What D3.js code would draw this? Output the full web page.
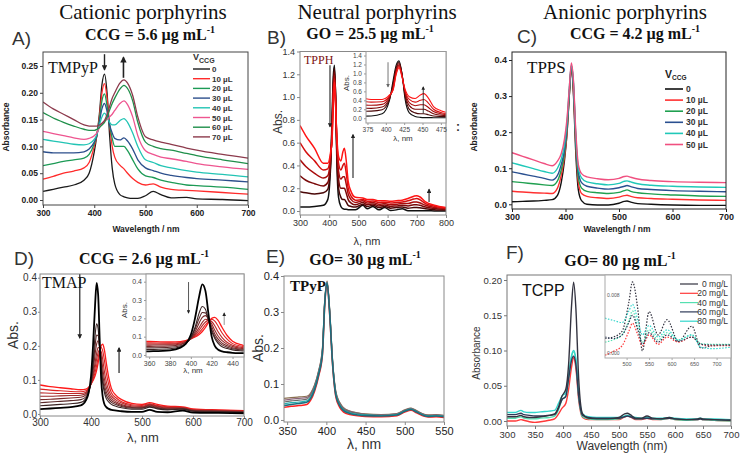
<!DOCTYPE html>
<html><head><meta charset="utf-8">
<script src="https://cdn.jsdelivr.net/npm/d3@7"></script>
<style>body{margin:0;background:#fff}svg{display:block}</style>
</head><body><script>
// ---------------- DATA ----------------
// Panel A (TMPyP, CCG)
const aWl = [300,320,340,360,380,390,400,405,410,415,420,425,430,435,440,450,458,465,475,485,500,515,530,550,580,600,650,700];
const aLabels = ["0","10 µL","20 µL","30 µL","40 µL","50 µL","60 µL","70 µL"];
const aColors = ["#1a1a1a","#ff2b2b","#1c9a55","#2c4f8c","#22c4b4","#ee5590","#1f8f4a","#8c3a4c"];
const aAbs = [
 [.016,.02,.024,.028,.037,.05,.09,.12,.16,.215,.235,.2,.12,.06,.03,.01,.006,.004,.003,.003,.008,.016,.01,.004,.005,.002,.001,-.001],
 [.039,.044,.05,.054,.06,.07,.1,.12,.155,.2,.217,.19,.14,.1,.08,.065,.058,.05,.04,.033,.028,.03,.024,.02,.018,.017,.014,.011],
 [.064,.068,.072,.075,.078,.085,.105,.12,.15,.185,.198,.175,.14,.115,.1,.1,.1,.092,.075,.058,.045,.042,.037,.033,.028,.027,.024,.02],
 [.09,.088,.088,.088,.09,.095,.108,.12,.145,.17,.18,.165,.14,.125,.115,.112,.116,.11,.095,.075,.06,.055,.05,.046,.042,.04,.037,.034],
 [.113,.11,.107,.104,.103,.105,.113,.122,.14,.155,.162,.155,.145,.14,.14,.148,.152,.145,.125,.1,.075,.07,.064,.06,.055,.052,.048,.043],
 [.128,.124,.12,.116,.113,.115,.12,.125,.135,.143,.148,.15,.155,.16,.167,.18,.185,.178,.155,.12,.092,.085,.08,.077,.072,.068,.062,.057],
 [.163,.153,.145,.138,.132,.13,.13,.132,.135,.14,.145,.155,.168,.18,.19,.207,.214,.208,.185,.145,.108,.1,.096,.093,.087,.083,.075,.068],
 [.183,.17,.16,.15,.14,.138,.138,.138,.14,.143,.148,.16,.175,.19,.2,.218,.224,.218,.195,.155,.118,.112,.108,.104,.097,.093,.085,.078]
];
const aYTicks = [0,0.05,0.10,0.15,0.20,0.25];
const aXTicks = [300,400,500,600,700];

// Panel B (TPPH, GO)
const bWl = [300,320,350,380,395,405,410,414,418,422,426,432,440,447,452,458,465,475,490,515,530,550,570,590,610,630,650,670,690,700,710,730,760,800];
const bColors = ["#111111","#4a0808","#7a0a0a","#a80c0c","#d41010","#ff1414"];
const bAbs = [
 [.035,.035,.04,.05,.1,.4,.85,1.18,1.28,1.0,.45,.12,.04,.02,.015,.015,.012,.01,.01,.05,.02,.04,.01,.03,.005,.01,.02,.003,.002,.002,.002,.002,.001,0],
 [.17,.16,.15,.16,.19,.42,.78,1.12,1.25,1.0,.52,.2,.12,.1,.1,.08,.05,.04,.035,.06,.04,.05,.03,.04,.025,.03,.035,.025,.03,.03,.028,.02,.012,.008],
 [.31,.27,.24,.22,.25,.45,.72,1.08,1.22,.98,.56,.28,.2,.2,.2,.16,.1,.07,.055,.075,.055,.062,.045,.052,.04,.045,.05,.045,.055,.055,.05,.035,.022,.014],
 [.45,.39,.33,.29,.31,.48,.68,1.04,1.19,.96,.6,.35,.28,.3,.3,.24,.15,.1,.075,.09,.07,.075,.06,.065,.055,.06,.065,.065,.08,.08,.072,.05,.032,.02],
 [.6,.52,.44,.36,.37,.5,.65,1.0,1.16,.94,.63,.42,.36,.4,.42,.34,.2,.13,.095,.1,.085,.088,.075,.078,.07,.075,.08,.09,.105,.11,.1,.065,.042,.026],
 [.75,.66,.55,.42,.42,.52,.63,.97,1.13,.92,.66,.48,.44,.52,.55,.45,.26,.17,.12,.115,.1,.1,.09,.09,.085,.09,.095,.11,.13,.135,.125,.08,.05,.03]
];
const bYTicks = [0,0.2,0.4,0.6,0.8,1.0,1.2,1.4];
const bXTicks = [300,400,500,600,700,800];
const bInsetXTicks = [375,400,425,450,475];

// Panel C (TPPS, CCG)
const cWl = [300,320,340,360,375,385,392,398,403,407,411,415,419,424,430,440,460,480,500,510,515,522,535,560,600,650,700];
const cLabels = ["0","10 µL","20 µL","30 µL","40 µL","50 µL"];
const cColors = ["#111111","#ff3030","#20a050","#2a5090","#20c8b8","#f05080"];
const cAbs = [
 [.007,.008,.009,.011,.013,.025,.06,.12,.2,.3,.375,.3,.15,.04,.01,0,-.002,-.002,.003,.008,.009,.006,.002,0,-.002,-.003,-.003],
 [.036,.034,.032,.031,.03,.045,.08,.13,.2,.3,.38,.31,.17,.06,.03,.022,.018,.016,.02,.024,.025,.022,.018,.016,.014,.012,.011],
 [.063,.06,.057,.054,.052,.065,.095,.14,.21,.3,.38,.32,.18,.075,.045,.036,.032,.03,.033,.038,.04,.036,.032,.029,.026,.023,.022],
 [.09,.084,.078,.072,.067,.08,.11,.15,.22,.31,.385,.33,.19,.09,.06,.05,.045,.042,.046,.05,.052,.049,.044,.041,.038,.036,.035],
 [.115,.107,.099,.091,.086,.1,.125,.165,.23,.32,.385,.335,.2,.1,.073,.062,.057,.054,.058,.064,.065,.062,.057,.053,.05,.048,.047],
 [.143,.133,.123,.113,.107,.12,.14,.18,.24,.32,.392,.34,.21,.11,.085,.076,.071,.068,.072,.077,.078,.075,.07,.066,.063,.061,.06]
];
const cYTicks = [0,0.1,0.2,0.3,0.4];
const cXTicks = [300,400,500,600,700];

// Panel D (TMAP, CCG)
const dWl = [300,320,340,360,380,390,395,400,404,408,411,414,417,420,423,426,430,435,440,450,460,480,500,515,530,550,580,600,650,700];
const dColors = ["#000000","#3a2424","#5a2a2a","#7a2a2a","#9a2a2a","#bb2828","#dd2222","#ff1a1a"];
const dAbs = [
 [.014,.016,.018,.02,.025,.04,.06,.11,.2,.32,.385,.35,.22,.1,.05,.03,.02,.015,.012,.01,.008,.006,.006,.012,.006,.005,.01,.004,.003,.002],
 [.024,.026,.028,.03,.034,.045,.06,.095,.15,.23,.265,.25,.19,.13,.09,.065,.045,.035,.028,.022,.018,.014,.014,.02,.015,.012,.014,.008,.006,.004],
 [.033,.035,.037,.039,.042,.05,.065,.092,.14,.2,.232,.23,.19,.14,.1,.075,.055,.042,.034,.027,.022,.017,.017,.022,.017,.014,.015,.009,.007,.005],
 [.042,.043,.045,.047,.049,.056,.068,.09,.125,.175,.205,.215,.195,.155,.115,.088,.065,.05,.04,.031,.025,.019,.018,.024,.019,.015,.016,.01,.008,.006],
 [.052,.052,.053,.054,.055,.06,.07,.088,.115,.15,.178,.195,.192,.17,.135,.105,.078,.058,.046,.035,.028,.021,.02,.026,.021,.017,.017,.011,.009,.007],
 [.062,.061,.06,.06,.06,.064,.073,.088,.108,.135,.16,.18,.19,.183,.16,.128,.095,.068,.053,.04,.032,.024,.022,.028,.023,.019,.018,.012,.01,.008],
 [.073,.07,.068,.066,.065,.068,.075,.088,.102,.122,.142,.165,.185,.195,.185,.16,.12,.085,.062,.046,.036,.027,.025,.03,.025,.021,.019,.013,.011,.009],
 [.085,.08,.077,.074,.071,.073,.078,.088,.098,.112,.128,.15,.178,.2,.205,.19,.15,.105,.075,.053,.042,.031,.028,.033,.028,.023,.021,.015,.012,.01]
];
const dYTicks = [0,0.1,0.2,0.3,0.4];
const dXTicks = [300,400,500,600,700];
const dInsetXTicks = [360,380,400,420,440];

// Panel E (TPyP, GO)
const eWl = [346,355,365,375,380,385,390,395,398,401,404,408,412,417,422,430,440,450,470,490,500,508,515,525,530,540,550];
const eColors = ["#8a7050","#8a6478","#6a6a6a","#2ab0b0","#ff2020","#1a7080"];
const eAbs = [
 [.06,.062,.064,.066,.075,.098,.136,.2,.335,.386,.315,.165,.08,.049,.034,.025,.02,.017,.015,.018,.028,.033,.026,.016,.014,.015,.013],
 [.055,.058,.06,.062,.072,.095,.134,.197,.332,.384,.312,.162,.078,.047,.032,.024,.019,.016,.014,.017,.027,.032,.025,.015,.013,.014,.012],
 [.05,.053,.055,.058,.068,.092,.131,.193,.33,.382,.31,.16,.076,.045,.03,.022,.018,.015,.013,.016,.026,.031,.024,.014,.012,.013,.011],
 [.045,.048,.05,.053,.064,.089,.128,.19,.327,.381,.307,.157,.073,.042,.028,.02,.016,.014,.012,.015,.025,.03,.023,.013,.011,.012,.01],
 [.035,.038,.04,.043,.055,.08,.12,.18,.32,.378,.3,.15,.065,.035,.022,.015,.012,.01,.009,.012,.022,.027,.02,.01,.008,.009,.007],
 [.04,.043,.046,.049,.06,.085,.125,.185,.325,.38,.305,.155,.07,.04,.026,.018,.014,.012,.011,.014,.024,.029,.022,.012,.01,.011,.009]
];
const eYTicks = [0,0.1,0.2,0.3,0.4];
const eXTicks = [350,400,450,500,550];

// Panel F (TCPP, GO)
const fWl = [300,315,325,330,340,350,360,375,385,392,398,405,410,415,419,423,428,435,445,460,480,500,510,515,520,530,540,550,560,575,590,600,620,640,645,650,670,700];
const fLabels = ["0 mg/L","20 mg/L","40 mg/L","60 mg/L","80 mg/L"];
const fColors = ["#333340","#ff3a3a","#55e0b0","#2e3a58","#33d6cc"];
const fAbs = [
 [.006,.006,.008,.006,.005,.005,.006,.008,.01,.02,.035,.045,.08,.16,.197,.16,.06,.01,.004,.003,.003,.005,.01,.011,.009,.004,.004,.007,.004,.003,.005,.003,.002,.003,.004,.003,.002,.001],
 [0,0,.002,.001,-.001,-.002,-.001,.001,.003,.01,.018,.025,.045,.075,.09,.075,.03,.005,.002,.002,.002,.002,.006,.007,.006,.002,.002,.004,.002,.002,.004,.002,.001,.002,.003,.002,.001,0],
 [.004,.004,.006,.004,.003,.003,.004,.005,.007,.016,.03,.035,.06,.09,.098,.085,.035,.006,.003,.002,.002,.003,.007,.008,.007,.003,.003,.005,.003,.002,.004,.002,.001,.002,.003,.002,.001,0],
 [.009,.009,.011,.009,.008,.007,.007,.008,.009,.018,.03,.035,.06,.085,.092,.08,.035,.008,.005,.004,.004,.004,.006,.007,.006,.003,.003,.004,.003,.003,.004,.003,.002,.002,.003,.002,.002,.001],
 [.012,.012,.015,.013,.012,.012,.013,.014,.015,.025,.035,.04,.065,.092,.1,.088,.04,.01,.006,.005,.005,.005,.007,.008,.007,.005,.004,.005,.004,.004,.005,.004,.003,.003,.004,.003,.003,.002]
];
const fYTicks = [0,0.05,0.10,0.15,0.20];
const fXTicks = [300,350,400,450,500,550,600,650,700];
// F inset (Q-band region, dotted)
const fInWl = [452,470,490,505,513,525,535,550,570,590,615,645,665,690,732];
const fInAbs = [
 [.002,.0022,.003,.007,.0098,.006,.0003,.0057,.0025,.0046,.0016,.0037,.0007,.001,.0011],
 [-.0003,.0002,.001,.003,.0041,.0025,.001,.0025,.0012,.0022,.0015,.0022,.0012,.001,.001],
 [.0015,.0018,.0025,.0045,.0058,.0035,.0015,.0032,.0018,.0028,.0018,.0025,.0013,.0012,.0012],
 [.0022,.002,.0025,.0042,.0052,.0032,.0012,.0028,.0015,.0025,.0016,.0022,.0012,.0011,.0011],
 [.0048,.0045,.0042,.0058,.0067,.0045,.0025,.0038,.0022,.0032,.0018,.0025,.0008,.0006,.0008]
];
const fInXTicks = [500,550,600,650,700];
const fInYTicks = [0,0.008];

// ---------------- DRAWING ----------------
const svg = d3.select('body').append('svg').attr('width',740).attr('height',457).style('background','#fff');
const defs = svg.append('defs');
function marker(id,color){
  defs.append('marker').attr('id',id).attr('viewBox','0 0 10 10').attr('refX',8).attr('refY',5)
    .attr('markerWidth',4).attr('markerHeight',4).attr('orient','auto')
    .append('path').attr('d','M0,0L10,5L0,10z').attr('fill',color);
}
marker('ahK','#222'); marker('ahG','#666');
let clipN = 0;
function plot(o){
  const x = d3.scaleLinear().domain(o.xd).range([o.l,o.r]);
  const y = d3.scaleLinear().domain(o.yd).range([o.b,o.t]);
  const g = svg.append('g');
  if(o.bg) g.append('rect').attr('x',o.l).attr('y',o.t).attr('width',o.r-o.l).attr('height',o.b-o.t).attr('fill','#fff');
  const id='clip'+(clipN++);
  defs.append('clipPath').attr('id',id).append('rect').attr('x',o.l).attr('y',o.t).attr('width',o.r-o.l).attr('height',o.b-o.t);
  const lg = g.append('g').attr('clip-path',`url(#${id})`);
  const line = d3.line().curve(d3.curveMonotoneX).x(d=>x(d[0])).y(d=>y(d[1]));
  const order = o.order || o.series.map((s,i)=>i);
  order.forEach(i=>{
    const s = o.series[i];
    lg.append('path').datum(o.wl.map((w,j)=>[w,s[j]]).filter(d=>d[1]!==undefined))
      .attr('d',line).attr('fill','none').attr('stroke',o.colors[i])
      .attr('stroke-width',o.sw ? (Array.isArray(o.sw)?o.sw[i]:o.sw) : 1.3)
      .attr('stroke-dasharray',o.dash||null).attr('stroke-linejoin','round');
  });
  const ts = o.tick===undefined?3:o.tick;
  const xa = d3.axisBottom(x).tickValues(o.xt).tickSize(ts).tickSizeOuter(0).tickPadding(o.pad===undefined?2:o.pad).tickFormat(o.xf||d3.format('d'));
  const ya = d3.axisLeft(y).tickValues(o.yt).tickSize(ts).tickSizeOuter(0).tickPadding(o.pad===undefined?2:o.pad).tickFormat(o.yf);
  const gx = g.append('g').attr('transform',`translate(0,${o.b})`).call(xa);
  const gy = g.append('g').attr('transform',`translate(${o.l},0)`).call(ya);
  [gx,gy].forEach(a=>{
    a.select('.domain').remove();
    a.selectAll('line').attr('stroke',o.ac||'#555');
    a.selectAll('text').attr('font-family',o.ff||'Liberation Sans').attr('font-size',o.fs||9)
      .attr('font-weight',o.fw||'normal').attr('fill',o.tc||'#333');
  });
  g.append('rect').attr('x',o.l).attr('y',o.t).attr('width',o.r-o.l).attr('height',o.b-o.t)
    .attr('fill','none').attr('stroke',o.ac||'#555').attr('stroke-width',1);
  return {x,y,g};
}
function text(x,y,str,o={}){
  const t = svg.append('text').attr('x',x).attr('y',y).text(str)
    .attr('font-family',o.ff||'Liberation Sans').attr('font-size',o.fs||10)
    .attr('font-weight',o.fw||'normal').attr('fill',o.fill||'#222')
    .attr('text-anchor',o.anchor||'start');
  if(o.rot) t.attr('transform',`rotate(-90,${x},${y})`);
  return t;
}
function conc(x,y,main){
  const t = svg.append('text').attr('x',x).attr('y',y).attr('text-anchor','middle')
    .attr('font-family','Liberation Serif').attr('font-size',16).attr('font-weight','bold').attr('fill','#111');
  t.append('tspan').text(main);
  t.append('tspan').text('-1').attr('font-size',10).attr('dy',-7);
}
function arrow(p,x0,y0,x1,y1,col,w){
  svg.append('line').attr('x1',p.x(x0)).attr('y1',p.y(y0)).attr('x2',p.x(x1)).attr('y2',p.y(y1))
    .attr('stroke',col||'#222').attr('stroke-width',w||1.2).attr('marker-end',`url(#${col==='#666'?'ahG':'ahK'})`);
}
const serifT = {ff:'Liberation Serif',fs:21,fill:'#111',anchor:'middle'};
// Section titles
text(143,19,'Cationic porphyrins',serifT);
text(377,19,'Neutral porphyrins',serifT);
text(625,19,'Anionic porphyrins',serifT);
// Panel letters
const letT = {ff:'Liberation Sans',fs:19,fill:'#333'};
text(12,45,'A)',letT); text(267,44,'B)',letT); text(517,43,'C)',letT);
text(14,265,'D)',letT); text(266,263,'E)',letT); text(506,259,'F)',letT);
// Concentration headings
conc(150,40,'CCG = 5.6 µg mL'); conc(370,39,'GO = 25.5 µg mL'); conc(635,39,'CCG = 4.2 µg mL');
conc(144,264,'CCG = 2.6 µg mL'); conc(365,265,'GO= 30 µg mL'); conc(620,266,'GO= 80 µg mL');

// ---- A ----
const pA = plot({l:43,r:248,t:52,b:205,xd:[300,700],yd:[-0.0093,0.2761],xt:aXTicks,yt:aYTicks,yf:d3.format('.2f'),
  wl:aWl,series:aAbs,colors:aColors,sw:1.3,fs:8.5,fw:'bold',tc:'#222',ac:'#444'});
text(48,73,'TMPyP',{ff:'Liberation Serif',fs:16,fill:'#111'});
arrow(pA,420,0.272,420,0.243,'#222',1.4); arrow(pA,457,0.228,457,0.266,'#222',1.6);
{
  const lt = svg.append('text').attr('x',193).attr('y',60).attr('font-family','Liberation Sans').attr('font-size',9).attr('font-weight','bold').attr('fill','#333');
  lt.append('tspan').text('V'); lt.append('tspan').text('CCG').attr('font-size',7).attr('dy',3);
  aLabels.forEach((lab,i)=>{
    const yy = 69+i*9.7;
    svg.append('line').attr('x1',193).attr('x2',210).attr('y1',yy).attr('y2',yy).attr('stroke',aColors[i]).attr('stroke-width',1.4);
    text(212,yy+3,lab,{fs:8,fw:'bold',fill:'#333'});
  });
}
text(9,127,'Absorbance',{fs:8.5,fw:'bold',anchor:'middle',rot:true});
text(146,232,'Wavelength / nm',{fs:8.5,fw:'bold',anchor:'middle'});

// ---- B ----
const pB = plot({l:300,r:446,t:51.5,b:215,xd:[300,800],yd:[-0.035,1.4],xt:bXTicks,yt:bYTicks,yf:d3.format('.1f'),
  wl:bWl,series:bAbs,colors:bColors,sw:1.5,fs:9,tc:'#333',ac:'#888'});
text(304,64,'TPPH',{ff:'Liberation Serif',fs:12,fill:'#7a1010'});
arrow(pB,402.7,1.28,402.7,0.74,'#222',1.1); arrow(pB,481.5,0.29,481.5,0.67,'#222',1.1); arrow(pB,742,0.079,742,0.19,'#222',1.1);
const pBi = plot({l:366,r:446,t:51.5,b:123,xd:[373,482],yd:[-0.106,1.49],xt:bInsetXTicks,yt:bYTicks,yf:d3.format('.1f'),
  wl:bWl,series:bAbs,colors:bColors,sw:1.1,fs:6.5,tc:'#444',ac:'#999',bg:true,tick:2});
arrow(pBi,403,1.25,403,0.70,'#666',0.9); arrow(pBi,451,0.11,451,0.70,'#222',0.9);
text(349,83,'Abs.',{fs:8,anchor:'middle',rot:true,fill:'#333'});
text(403,141,'λ, nm',{fs:8,anchor:'middle',fill:'#333'});
text(282,122,'Abs.',{fs:12,anchor:'middle',rot:true,fill:'#333'});
text(367,245,'λ, nm',{fs:11,anchor:'middle',fill:'#333'});
text(456,131,':',{fs:12,fw:'bold',fill:'#333'});

// ---- C ----
const pC = plot({l:512,r:726,t:52,b:209,xd:[300,700],yd:[-0.013,0.4222],xt:cXTicks,yt:cYTicks,yf:d3.format('.1f'),
  wl:cWl,series:cAbs,colors:cColors,sw:1.4,fs:9,fw:'bold',tc:'#222',ac:'#222'});
text(527,73,'TPPS',{ff:'Liberation Serif',fs:17,fill:'#111'});
{
  const lt = svg.append('text').attr('x',665).attr('y',78).attr('font-family','Liberation Sans').attr('font-size',10.5).attr('font-weight','bold').attr('fill','#222');
  lt.append('tspan').text('V'); lt.append('tspan').text('CCG').attr('font-size',6.5).attr('dy',2);
  cLabels.forEach((lab,i)=>{
    const yy = 89+i*11.1;
    svg.append('line').attr('x1',665).attr('x2',683).attr('y1',yy).attr('y2',yy).attr('stroke',cColors[i]).attr('stroke-width',1.6);
    text(686,yy+3,lab,{fs:8.5,fw:'bold',fill:'#333'});
  });
}
text(477,127,'Absorbance',{fs:8.5,fw:'bold',anchor:'middle',rot:true});
text(617,232,'Wavelength / nm',{fs:8.5,fw:'bold',anchor:'middle'});

// ---- D ----
const dSw = [1.8,1.1,1.1,1.1,1.1,1.1,1.1,1.3];
const pD = plot({l:40,r:244,t:274,b:416,xd:[300,700],yd:[-0.006,0.4109],xt:dXTicks,yt:dYTicks,yf:d3.format('.1f'),
  wl:dWl,series:dAbs,colors:dColors,sw:dSw,order:[7,6,5,4,3,2,1,0],fs:10,tc:'#333',ac:'#888',tick:2,pad:1});
text(42,288,'TMAP',{ff:'Liberation Serif',fs:16,fill:'#111'});
arrow(pD,378,0.41,378,0.223,'#222',1.2); arrow(pD,455,0.12,455,0.194,'#222',1.2);
const pDi = plot({l:146,r:244,t:274,b:357,xd:[357,451],yd:[-0.011,0.442],xt:dInsetXTicks,yt:dYTicks,yf:d3.format('.1f'),
  wl:dWl,series:dAbs,colors:dColors,sw:dSw,order:[7,6,5,4,3,2,1,0],fs:7,tc:'#444',ac:'#999',bg:true,tick:2});
arrow(pDi,397.8,0.398,397.8,0.229,'#444',0.9); arrow(pDi,432,0.164,432,0.229,'#888',0.9);
text(127,310,'Abs.',{fs:8,anchor:'middle',rot:true,fill:'#333'});
text(193,373,'λ, nm',{fs:8,anchor:'middle',fill:'#333'});
text(18,335,'Abs.',{fs:14,anchor:'middle',rot:true,fill:'#333'});
text(143,442,'λ, nm',{fs:13,anchor:'middle',fill:'#333'});

// ---- E ----
const pE = plot({l:284,r:444,t:276,b:422,xd:[346,550],yd:[-0.0056,0.4],xt:eXTicks,yt:eYTicks,yf:d3.format('.1f'),
  wl:eWl,series:eAbs,colors:eColors,sw:[1.2,1.2,1.2,1.2,1.5,1.6],fs:11,tc:'#222',ac:'#888'});
text(290,291,'TPyP',{ff:'Liberation Serif',fs:15,fw:'bold',fill:'#111'});
text(263,348,'Abs.',{fs:14,anchor:'middle',rot:true,fill:'#333'});
text(364,449,'λ, nm',{fs:14,anchor:'middle',fill:'#333'});

// ---- F ----
const pF = plot({l:507,r:731,t:275,b:426,xd:[300,700],yd:[-0.0071,0.2071],xt:fXTicks,yt:fYTicks,yf:d3.format('.2f'),
  wl:fWl,series:fAbs,colors:fColors,sw:1.4,order:[1,2,4,3,0],fs:9.5,tc:'#333',ac:'#777'});
text(522,296,'TCPP',{ff:'Liberation Sans',fs:16,fill:'#111'});
const pFi = plot({l:605,r:731,t:275,b:358,xd:[452,732],yd:[-0.00069,0.01076],xt:fInXTicks,yt:[],yf:d3.format('.3f'),
  wl:fInWl,series:fInAbs,colors:fColors,sw:1.2,dash:'1.5,1.5',fs:5.5,tc:'#555',ac:'#aaa',bg:true,tick:2});
fInYTicks.forEach(v=>text(607,pFi.y(v)+2,d3.format('.3f')(v),{fs:5,fill:'#555'}));
fLabels.forEach((lab,i)=>{
  const yy = 284+i*9.3;
  svg.append('line').attr('x1',680).attr('x2',698).attr('y1',yy).attr('y2',yy).attr('stroke',fColors[i]).attr('stroke-width',1.2);
  text(728,yy+3,lab,{fs:8.5,anchor:'end',fill:'#333'});
});
text(480,353,'Absorbance',{fs:10,anchor:'middle',rot:true,fill:'#333'});
text(622,450,'Wavelength (nm)',{fs:12,anchor:'middle',fill:'#333'});
</script></body></html>
